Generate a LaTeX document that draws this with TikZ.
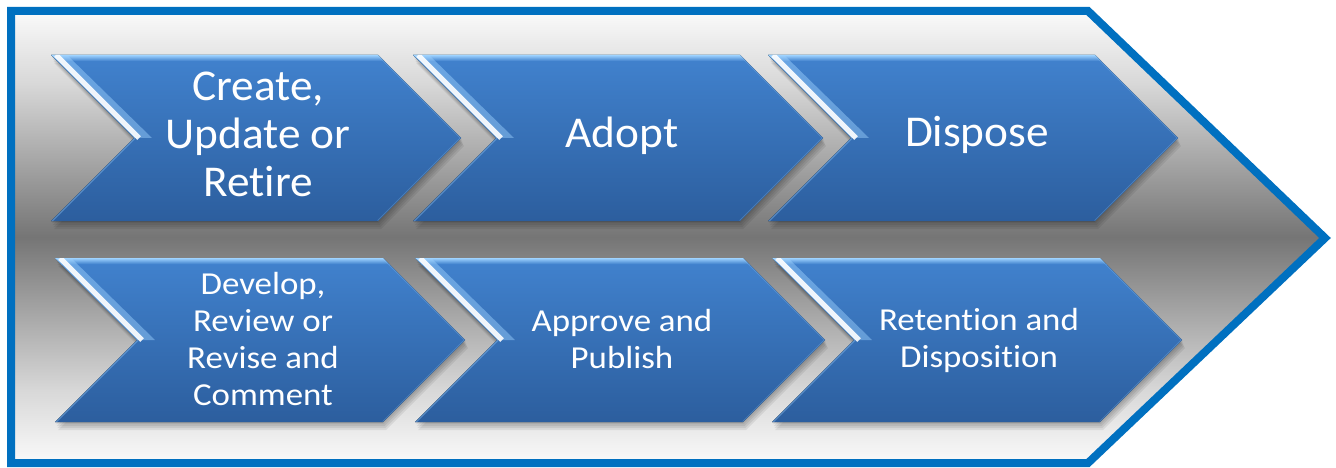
\documentclass[tikz,border=0pt]{standalone}
\usepackage{fontspec}
\setmainfont{Carlito}
\newfontfamily\bigfont[FakeStretch=1.03,RawFeature=-liga]{Carlito}
\newfontfamily\smallfont[FakeStretch=1.09,RawFeature=-liga]{Carlito}
\definecolor{border}{HTML}{0070C0}
\definecolor{bgw}{HTML}{FAFAFA}
\definecolor{bgl}{HTML}{D8D8D8}
\definecolor{bgm}{HTML}{757575}
\definecolor{chtop}{HTML}{4182CE}
\definecolor{chbot}{HTML}{2C5E9E}
\definecolor{hlblue}{HTML}{9FD3FF}
\pgfdeclareverticalshading{bgshade}{100bp}{color(0bp)=(bgw); color(25bp)=(bgw); color(33bp)=(bgl); color(50bp)=(bgm); color(67bp)=(bgl); color(75bp)=(bgw); color(100bp)=(bgw)}
\tikzset{
  bigtxt/.style={text=white, align=center, inner sep=0pt, font=\bigfont\fontsize{44}{48}\selectfont},
  smalltxt/.style={text=white, align=center, inner sep=0pt, font=\smallfont\fontsize{32}{37}\selectfont},
  chevfill/.style={top color=chtop, bottom color=chbot},
  outerarrow/.style={draw=border, line width=8pt, line join=miter, shading=bgshade}
}
% #1 = left x, #2 = top y, #3 = bottom y
\newcommand\mychev[3]{%
  \pgfmathsetmacro\cD{(#3-#2)/2}%
  \pgfmathsetmacro\cM{(#2+#3)/2}%
  \foreach \s in {2,4,6,8}{%
    \fill[black, opacity=0.07, shift={(\s*0.4,\s)}]
      (#1,#2) -- ({#1+410-\cD},#2) -- ({#1+410},\cM) -- ({#1+410-\cD},#3) -- (#1,#3) -- ({#1+\cD},\cM) -- cycle;}
  \fill[chevfill] (#1,#2) -- ({#1+410-\cD},#2) -- ({#1+410},\cM) -- ({#1+410-\cD},#3) -- (#1,#3) -- ({#1+\cD},\cM) -- cycle;
  \begin{scope}
    \clip (#1,#2) -- ({#1+410-\cD},#2) -- ({#1+410},\cM) -- ({#1+410-\cD},#3) -- (#1,#3) -- ({#1+\cD},\cM) -- cycle;
    \fill[top color=hlblue, bottom color=chtop] (#1,#2) rectangle ({#1+410},{#2+6});
    \fill[hlblue, opacity=0.45] (#1,#2) -- ({#1+\cD},\cM) -- ({#1+\cD+18},\cM) -- ({#1+16},#2) -- cycle;
    \draw[white, line width=5pt, opacity=0.9] ({#1+5},#2) -- ({#1+\cD+5},\cM);
    \draw[hlblue, line width=3pt, opacity=0.35] ({#1+\cD},\cM) -- (#1,#3);
    \draw[hlblue, line width=2pt, opacity=0.25] ({#1+410-\cD},#2) -- ({#1+410},\cM) -- ({#1+410-\cD},#3);
  \end{scope}
}
\begin{document}
\begin{tikzpicture}[x=1pt,y=-1pt]
\useasboundingbox (0,0) rectangle (1336,468);
\fill[white] (0,0) rectangle (1336,468);
\path[outerarrow] (11,11) -- (1088,11) -- (1325,238) -- (1088,463) -- (11,463) -- cycle;
\mychev{51}{55}{221}
\mychev{413}{55}{221}
\mychev{768}{55}{221}
\mychev{55}{258}{422}
\mychev{415}{258}{422}
\mychev{772}{258}{422}
\node[bigtxt] (t1) at (258,134) {Create,\\Update or\\Retire};
\node[bigtxt] (t2) at (622,136) {Adopt};
\node[bigtxt] (t3) at (977,135) {Dispose};
\node[smalltxt] (b1) at (263,339) {Develop,\\Review or\\Revise and\\Comment};
\node[smalltxt] (b2) at (622,339) {Approve and\\Publish};
\node[smalltxt] (b3) at (979,340) {Retention and\\Disposition};
\end{tikzpicture}
\end{document}
